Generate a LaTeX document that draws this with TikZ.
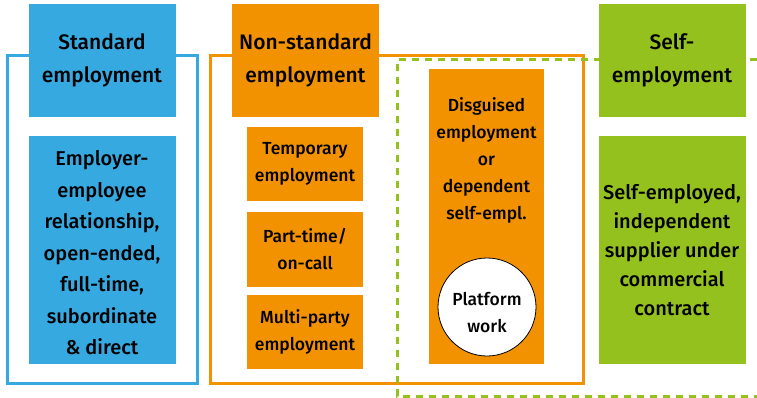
\documentclass[tikz,border=0pt]{standalone}
\usepackage{fontspec}
\setmainfont{Fira Sans}[BoldFont={Fira Sans Medium}]
\usetikzlibrary{positioning}

\definecolor{stdblue}{HTML}{36A9E1}
\definecolor{nsorange}{HTML}{F39200}
\definecolor{selfgreen}{HTML}{95C11F}

\begin{document}
\begin{tikzpicture}[
    x=1pt, y=-1pt,
    % Styles
    header/.style={
        fill=#1, minimum width=147pt, minimum height=113pt,
        inner sep=0pt, align=center,
        font=\fontsize{21}{33}\selectfont\bfseries,
    },
    header/.default={stdblue},
    panel/.style={
        fill=#1, minimum width=147pt, minimum height=228pt,
        inner sep=0pt, align=center,
        font=\fontsize{20}{29}\selectfont\bfseries,
    },
    panel/.default={stdblue},
    subbox/.style={
        fill=nsorange, minimum width=116pt,
        inner sep=0pt, align=center,
        font=\fontsize{17.5}{27}\selectfont\bfseries,
    },
    subtext/.style={
        inner sep=0pt, align=center,
        font=\fontsize{17.5}{27}\selectfont\bfseries,
    },
    frame/.style={draw=#1, line width=3pt},
    frame/.default={stdblue},
    dashframe/.style={draw=#1, line width=3pt, dash pattern=on 7pt off 6pt},
    dashframe/.default={selfgreen},
]
\useasboundingbox (0,0) rectangle (757,398);

% ================================================================
% FRAMES
% ================================================================
\draw[frame=stdblue] (7,56) rectangle (197,383);
\draw[frame=nsorange] (210,56) rectangle (583,383);
\draw[dashframe=selfgreen] (757,60) -| (397,396) -- (757,396);

% ================================================================
% STANDARD EMPLOYMENT
% ================================================================
\node[header=stdblue] (stdhead) at (102,60.5) {Standard\\employment};
\node[panel=stdblue] (stdbody) at (102,250) {};
\node[inner sep=0pt, align=center, font=\fontsize{20}{31.5}\selectfont\bfseries]
    (stdtxt) at (102,253)
    {Employer-\\employee\\relationship,\\open-ended,\\full-time,\\subordinate\\\& direct};

% ================================================================
% NON-STANDARD EMPLOYMENT
% ================================================================
\node[header=nsorange] (nshead) at (305.5,60.5) {Non-standard\\employment};
\node[subbox, minimum height=74pt] (temporary) at (305,164) {Temporary\\employment};
\node[subbox, minimum height=75pt] (parttime) at (305,249.5) {Part-time/\\on-call};
\node[subbox, minimum height=74pt] (multiparty) at (305,332) {Multi-party\\employment};

\node[subbox, minimum width=115pt, minimum height=295pt] (disguised) at (486.5,216.5) {};
\node[subtext] (disguisedtxt) at (486.5,160)
    {Disguised\\employment\\or\\dependent\\self-empl.};
\node[circle, draw=black, thick, fill=white, minimum size=98pt, inner sep=0pt]
    (platform) at (487,307) {};
\node[subtext] (platformtxt) at (487,313) {Platform\\work};

% ================================================================
% SELF-EMPLOYMENT
% ================================================================
\node[header=selfgreen] (selfhead) at (672,60.5) {Self-\\employment};
\node[panel=selfgreen] (selfbody) at (672,250)
    {Self-employed,\\independent\\supplier under\\commercial\\contract};

\end{tikzpicture}
\end{document}
